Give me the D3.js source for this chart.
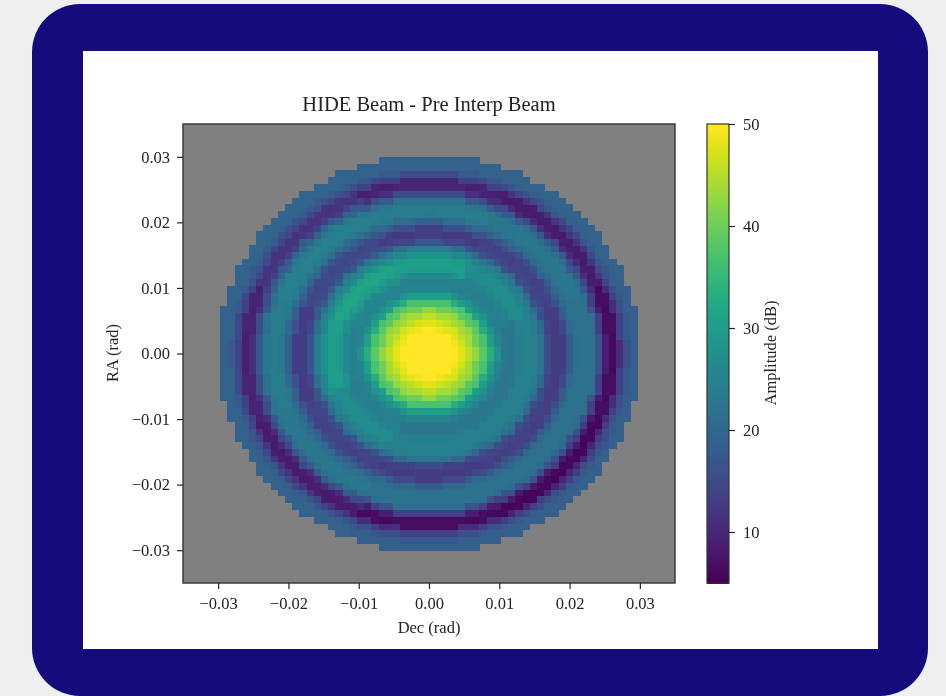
<!DOCTYPE html>
<html>
<head>
<meta charset="utf-8">
<script src="https://cdnjs.cloudflare.com/ajax/libs/d3/7.8.5/d3.min.js"></script>
<style>
  html, body { margin: 0; padding: 0; background: #efefef; }
  svg { display: block; filter: blur(0.7px); }
  text { font-family: "Liberation Serif", serif; fill: #222; }
</style>
</head>
<body>
<svg id="chart" width="946" height="696"></svg>
<script>
// tick labels
const axisTicks = [-0.03, -0.02, -0.01, 0, 0.01, 0.02, 0.03];
const colorTicks = [10, 20, 30, 40, 50];

// amplitude (dB), one value every 0.0005 rad from the centre
// main lobe looks the same all the way round
const beamCentre = [50,50,50,50,50,50,50,50,49,48,47,45.5,44,42.5,40,38.5,37,33,30,27.5,25.5];
// sidelobes differ with direction: brightest to the upper left, darkest to the lower right
const ringsUpperLeft = [25.5,25.5,26,27.5,29.5,31,31.5,31.5,30.5,28.5,26.5,24.5,22,18,15.5,15,14.5,15,17,19.5,21.5,23.5,24,24.5,24.5,24,23,19.5,17.5,13.5,12,11.5,12,14.5,16,18,19,19.5,19.5,19.5];
const ringsTopLeft = [25,24.5,24.5,26,28,29.5,30,30,29.5,28,26,24,21.5,17,14,13,12.5,13,16,18.5,20.5,23,23.5,23.5,23.5,23,22,17.5,15.5,11,9.5,9,9.5,13.5,15,17.5,19,19,19,19];
const ringsCross = [24.5,24,24,24.5,25.5,26.5,27,27,26.5,25.5,24.5,23,20.5,16.5,14.5,14,13.5,14,16,18.5,20.5,22,22.5,23,23,22.5,21.5,17.5,15,10.5,8.5,8,8.5,12,14.5,17,18.5,19,19,19];
const ringsBottomRight = [24,23,22.5,22.5,23,24,24.5,25,25,24.5,24,22.5,20,15.5,13.5,13,12.5,13,15,18,20,21.5,22,22,22,22,21,16.5,13.5,8.5,6.5,6,6.5,10.5,13.5,16,17.5,18.5,18.5,18.5];
const ringsLowerRight = [24,23,22.5,22.5,23,24,24.5,24.5,24.5,24,23.5,22,20,15.5,14,13.5,13,13.5,15.5,18,20,21,21.5,22,22,21.5,20.5,16,13,8,6,5.5,6,9.5,13,15.5,17.5,18.5,18.5,18.5];

const profiles = [ringsUpperLeft, ringsTopLeft, ringsCross, ringsBottomRight, ringsLowerRight]
  .map(rings => beamCentre.concat(rings));

const profileStep = 0.0005;
const cellCount = 58;
const maskRadiusSq = 860; // in cell units, matches the stepped outline
const cellW = 0.001024, cellH = 0.001034;

const svg = d3.select('#chart');

// card + white sheet
svg.append('rect').attr('x', 32).attr('y', 4).attr('width', 896).attr('height', 692)
  .attr('rx', 48).attr('fill', '#160b7d');
svg.append('rect').attr('x', 83).attr('y', 51).attr('width', 795).attr('height', 598).attr('fill', '#fff');

const plot = { left: 183, right: 675, top: 124, bottom: 583 };
const x = d3.scaleLinear().domain([-0.035, 0.035]).range([plot.left, plot.right]);
const y = d3.scaleLinear().domain([-0.035, 0.035]).range([plot.bottom, plot.top]);
const color = d3.scaleSequential(d3.interpolateViridis).domain([5, 50]);
const cbar = d3.scaleLinear().domain([5, 50]).range([plot.bottom, plot.top]);

// build grid cells, picking the profile by angle away from the upper left diagonal
const cells = [];
const half = cellCount / 2;
for (let i = 0; i < cellCount; i++) {
  for (let j = 0; j < cellCount; j++) {
    const ci = i + 0.5 - half, cj = j + 0.5 - half;
    if (ci * ci + cj * cj > maskRadiusSq) continue;
    const cx = ci * cellW, cy = cj * cellH;
    const r = Math.hypot(cx, cy);
    const angle = Math.acos((cy - cx) / (Math.SQRT2 * r)) * 180 / Math.PI;
    const profile = profiles[Math.round(angle / 45)];
    const v = profile[Math.min(profile.length - 1, Math.round(r / profileStep))];
    cells.push({ cx, cy, v });
  }
}

svg.append('rect').attr('x', plot.left).attr('y', plot.top)
  .attr('width', plot.right - plot.left).attr('height', plot.bottom - plot.top).attr('fill', '#808080');

svg.append('g').attr('shape-rendering', 'crispEdges').selectAll('rect').data(cells).join('rect')
  .attr('x', d => x(d.cx - cellW / 2))
  .attr('y', d => y(d.cy + cellH / 2))
  .attr('width', d => x(d.cx + cellW / 2) - x(d.cx - cellW / 2) + 0.5)
  .attr('height', d => y(d.cy - cellH / 2) - y(d.cy + cellH / 2) + 0.5)
  .attr('fill', d => color(d.v));

const fmt = d => d3.format('.2f')(d).replace('-', '\u2212');

function styleAxis(g) {
  g.selectAll('path').remove();
  g.selectAll('line').attr('stroke', '#222').attr('stroke-width', 1.2);
  g.selectAll('text').attr('font-size', 16.5).attr('font-family', '"Liberation Serif", serif').attr('fill', '#222');
}

svg.append('g').attr('transform', `translate(0,${plot.bottom})`)
  .call(d3.axisBottom(x).tickValues(axisTicks).tickFormat(fmt).tickSize(6).tickPadding(8))
  .call(styleAxis);
svg.append('g').attr('transform', `translate(${plot.left},0)`)
  .call(d3.axisLeft(y).tickValues(axisTicks).tickFormat(fmt).tickSize(6).tickPadding(7))
  .call(styleAxis);

svg.append('rect').attr('x', plot.left).attr('y', plot.top)
  .attr('width', plot.right - plot.left).attr('height', plot.bottom - plot.top)
  .attr('fill', 'none').attr('stroke', '#333').attr('stroke-width', 1.4);

// colour bar
const barX = 707, barW = 22;
svg.append('g').attr('shape-rendering', 'crispEdges').selectAll('rect').data(d3.range(5, 50, 0.1)).join('rect')
  .attr('x', barX).attr('width', barW)
  .attr('y', d => cbar(d + 0.1))
  .attr('height', d => cbar(d) - cbar(d + 0.1) + 0.5)
  .attr('fill', d => color(d));
svg.append('rect').attr('x', barX).attr('y', plot.top).attr('width', barW)
  .attr('height', plot.bottom - plot.top).attr('fill', 'none').attr('stroke', '#333').attr('stroke-width', 1.2);
svg.append('g').attr('transform', `translate(${barX + barW},0)`)
  .call(d3.axisRight(cbar).tickValues(colorTicks).tickFormat(d3.format('d')).tickSize(6).tickPadding(8))
  .call(styleAxis);

// labels
svg.append('text').attr('x', 429).attr('y', 111).attr('text-anchor', 'middle').attr('font-size', 20.5)
  .text('HIDE Beam - Pre Interp Beam');
svg.append('text').attr('x', 429).attr('y', 633).attr('text-anchor', 'middle').attr('font-size', 16.5)
  .text('Dec (rad)');
svg.append('text').attr('transform', 'translate(118,353) rotate(-90)').attr('text-anchor', 'middle').attr('font-size', 16.5)
  .text('RA (rad)');
svg.append('text').attr('transform', 'translate(776,353) rotate(-90)').attr('text-anchor', 'middle').attr('font-size', 16.5)
  .text('Amplitude (dB)');
</script>
</body>
</html>
